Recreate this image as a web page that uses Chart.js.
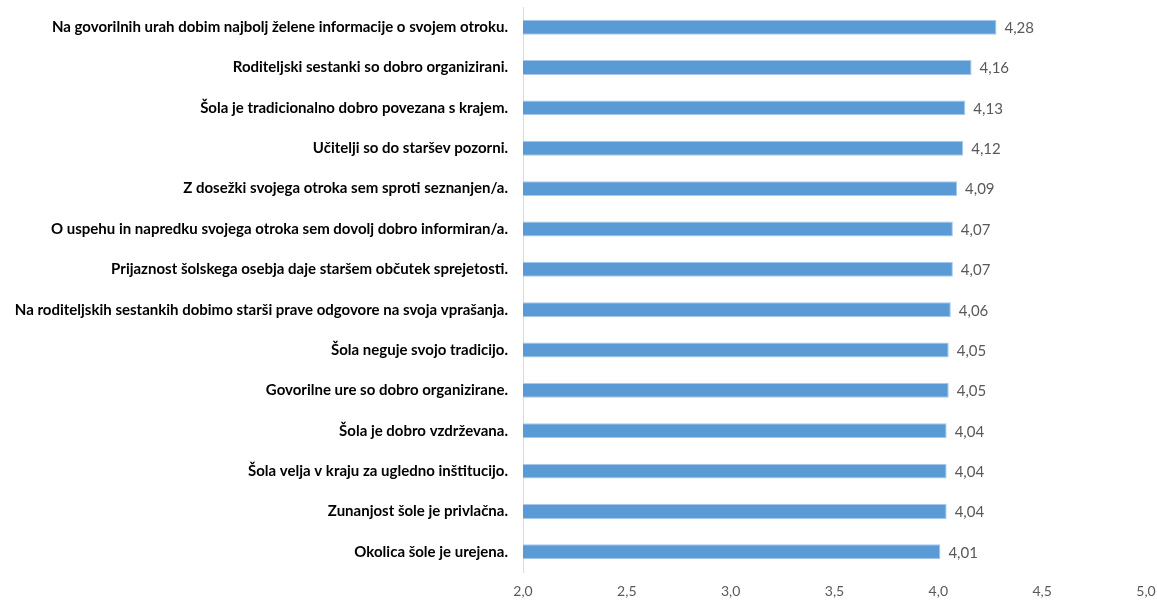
<!DOCTYPE html>
<html>
<head>
<meta charset="utf-8">
<script src="https://cdn.jsdelivr.net/npm/chart.js@4"></script>
<style>
  html, body { margin: 0; padding: 0; background: #fff; }
  #wrap { width: 1157px; height: 601px; position: relative; }
</style>
</head>
<body>
<div id="wrap"><canvas id="chart"></canvas></div>
<script>
// Data
const categories = [
  'Na govorilnih urah dobim najbolj želene informacije o svojem otroku.',
  'Roditeljski sestanki so dobro organizirani.',
  'Šola je tradicionalno dobro povezana s krajem.',
  'Učitelji so do staršev pozorni.',
  'Z dosežki svojega otroka sem sproti seznanjen/a.',
  'O uspehu in napredku svojega otroka sem dovolj dobro informiran/a.',
  'Prijaznost šolskega osebja daje staršem občutek sprejetosti.',
  'Na roditeljskih sestankih dobimo starši prave odgovore na svoja vprašanja.',
  'Šola neguje svojo tradicijo.',
  'Govorilne ure so dobro organizirane.',
  'Šola je dobro vzdrževana.',
  'Šola velja v kraju za ugledno inštitucijo.',
  'Zunanjost šole je privlačna.',
  'Okolica šole je urejena.'
];
const values = [4.28, 4.16, 4.13, 4.12, 4.09, 4.07, 4.07, 4.06, 4.05, 4.05, 4.04, 4.04, 4.04, 4.01];
const xMin = 2.0;
const xMax = 5.0;
const xStep = 0.5;

const fmt = v => v.toFixed(2).replace('.', ',');

// value labels at the bar ends
const valueLabels = {
  id: 'valueLabels',
  afterDatasetsDraw(chart) {
    const ctx = chart.ctx;
    const meta = chart.getDatasetMeta(0);
    ctx.save();
    ctx.font = '15px Lato';
    ctx.fillStyle = '#595959';
    ctx.textAlign = 'left';
    ctx.textBaseline = 'middle';
    meta.data.forEach((bar, i) => {
      ctx.fillText(fmt(values[i]), bar.x + 8, bar.y + 1);
    });
    ctx.restore();
  }
};

new Chart(document.getElementById('chart'), {
  type: 'bar',
  data: {
    labels: categories,
    datasets: [{
      data: values,
      backgroundColor: '#5b9bd5',
      borderColor: '#a9c9ea',
      borderWidth: 1,
      categoryPercentage: 1,
      barPercentage: 0.37,
      base: xMin
    }]
  },
  options: {
    indexAxis: 'y',
    responsive: true,
    maintainAspectRatio: false,
    animation: false,
    layout: { padding: { top: 7, right: 11, bottom: 0, left: 0 } },
    plugins: { legend: { display: false }, tooltip: { enabled: false } },
    scales: {
      x: {
        min: xMin,
        max: xMax,
        grid: { display: false, drawTicks: false },
        border: { display: false },
        ticks: {
          stepSize: xStep,
          color: '#595959',
          font: { family: 'Lato', size: 14 },
          padding: 11,
          callback: v => v.toFixed(1).replace('.', ',')
        },
        afterFit: s => { s.paddingLeft = 0; s.paddingRight = 0; s.height = 29; }
      },
      y: {
        grid: { display: false, drawTicks: false },
        border: { display: true, color: '#d9d9d9', width: 1 },
        ticks: {
          color: '#000',
          font: { family: 'Lato', size: 15, weight: 'bold' },
          padding: 15,
          autoSkip: false
        },
        afterFit: s => { s.width = 523; s.paddingTop = 0; s.paddingBottom = 0; }
      }
    }
  },
  plugins: [valueLabels]
});
</script>
</body>
</html>
